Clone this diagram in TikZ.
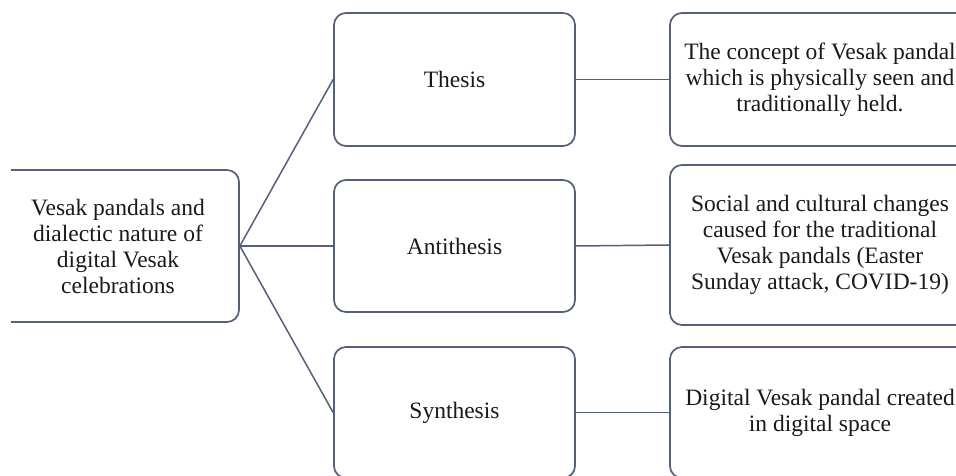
\documentclass[tikz,border=0pt]{standalone}
\usepackage{fontspec}
\setmainfont{Liberation Serif}
\definecolor{edge}{HTML}{56607A}
\definecolor{ink}{HTML}{1A1A1A}
\begin{document}
\begin{tikzpicture}[x=1pt,y=-1pt,
  box/.style={draw=edge, line width=1.7pt, rounded corners=12pt, fill=white,
    inner sep=0pt, align=center, text=ink,
    font=\fontsize{23.5}{26}\selectfont},
  link/.style={draw=edge, line width=1.5pt}]
\useasboundingbox (0,0) rectangle (956,476);
\fill[white] (0,0) rectangle (956,476);
\begin{scope}
\clip (11,0) rectangle (956,476);
\node[box, minimum width=242pt, minimum height=152pt] (root) at (118,246)
  {Vesak pandals and\\dialectic nature of\\digital Vesak\\celebrations};
\node[box, minimum width=241pt, minimum height=133pt] (thesis) at (454.5,79.5) {Thesis};
\node[box, minimum width=241pt, minimum height=132pt] (anti) at (454.5,246) {Antithesis};
\node[box, minimum width=241pt, minimum height=131pt] (syn) at (454.5,412.5) {Synthesis};
\node[box, minimum width=300pt, minimum height=133pt] (d1) at (820,79.5)
  {The concept of Vesak pandal\\which is physically seen and\\traditionally held.};
\node[box, minimum width=300pt, minimum height=160pt] (d2) at (820,245)
  {Social and cultural changes\\caused for the traditional\\Vesak pandals (Easter\\Sunday attack, COVID-19)};
\node[box, minimum width=300pt, minimum height=131pt] (d3) at (820,412.5)
  {Digital Vesak pandal created\\in digital space};
\end{scope}
\draw[link] (root.east) -- (thesis.west);
\draw[link] (root.east) -- (anti.west);
\draw[link] (root.east) -- (syn.west);
\draw[link] (thesis.east) -- (d1.west);
\draw[link] (anti.east) -- (d2.west);
\draw[link] (syn.east) -- (d3.west);
\end{tikzpicture}
\end{document}
